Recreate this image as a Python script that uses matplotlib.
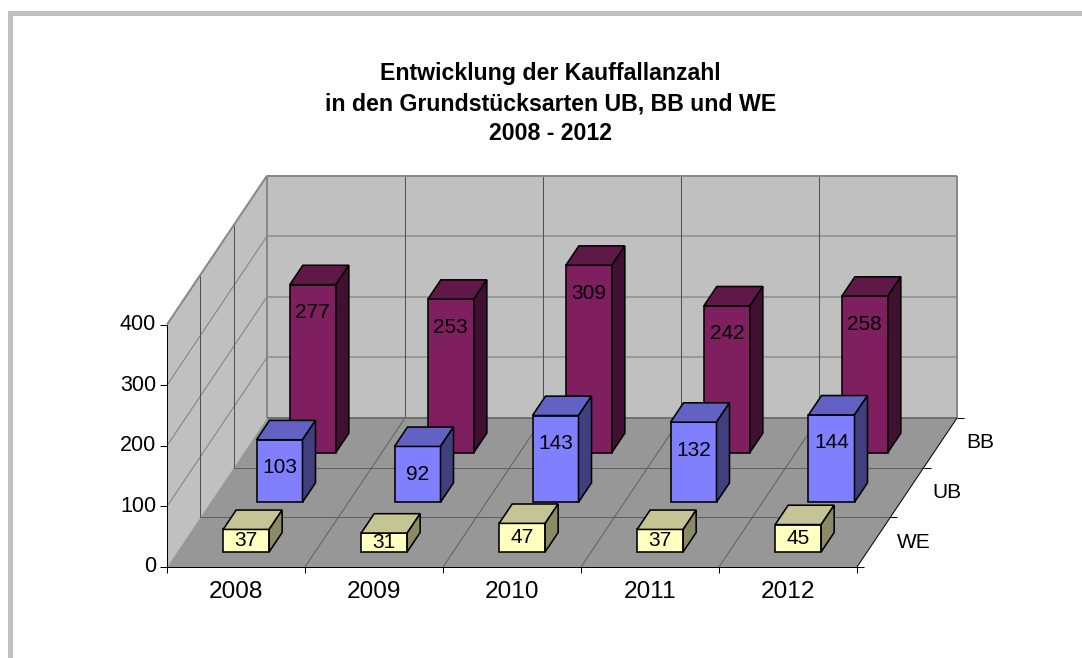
import matplotlib
matplotlib.use("Agg")
import matplotlib.pyplot as plt
from matplotlib.patches import Polygon, Rectangle

plt.rcParams['font.family'] = ['Liberation Sans', 'DejaVu Sans']

# ---------------- data ----------------
categories = ['2008', '2009', '2010', '2011', '2012']
series_names = ['WE', 'UB', 'BB']          # front to back
we_values = [37, 31, 47, 37, 45]
ub_values = [103, 92, 143, 132, 144]
bb_values = [277, 253, 309, 242, 258]
y_ticks = [0, 100, 200, 300, 400]
title_lines = ['Entwicklung der Kauffallanzahl',
               'in den Grundstücksarten UB, BB und WE',
               '2008 - 2012']

series_values = [we_values, ub_values, bb_values]

# ---------------- styles / geometry ----------------
W, H = 1082, 658
X0_PX, Y0_PX = 167, 567          # front-left floor corner (pixels)
CAT_PX = 138.0                   # pixels per category
VAL_PX = 0.606                   # pixels per value unit
DEPTH_DX_PX, DEPTH_DY_PX = 100.0, 149.0
DX = DEPTH_DX_PX / CAT_PX
DY = DEPTH_DY_PX / VAL_PX
VMAX = 400
NCAT = len(categories)
NSER = len(series_names)
BAR_W = 1 / 3.0
BAR_D = 0.13

face_colors = {
    'WE': ('#FFFFC0', '#C4C494', '#8A8A64'),
    'UB': ('#8080FF', '#6262C4', '#40407E'),
    'BB': ('#801F60', '#601848', '#401030'),
}
wall_col = '#C0C0C0'
floor_col = '#979797'
edge_col = '#888888'
px = 0.72  # points per pixel

fig = plt.figure(figsize=(W / 100, H / 100), dpi=100)
ax = fig.add_axes([0, 0, 1, 1])
ax.set_xlim(-X0_PX / CAT_PX, (W - X0_PX) / CAT_PX)
ax.set_ylim((Y0_PX - H) / VAL_PX, Y0_PX / VAL_PX)
ax.axis('off')


def P(x, v, d):
    return (x + d * DX, v + d * DY)


def poly(pts, fc, ec, lw, z):
    ax.add_patch(Polygon(pts, closed=True, facecolor=fc, edgecolor=ec,
                         linewidth=lw, zorder=z, joinstyle='miter'))


def line(p1, p2, color, lw, z):
    ax.plot([p1[0], p2[0]], [p1[1], p2[1]], color=color, lw=lw, zorder=z,
            solid_capstyle='butt')


# outer border
fig.patches.append(Rectangle((10 / W, -0.1), 1.2, 1.1 - 12.5 / H,
                             transform=fig.transFigure, fill=False,
                             edgecolor='#C0C0C0', linewidth=5 * px,
                             clip_on=False, zorder=0))

# walls and floor
poly([P(0, 0, 0), P(0, VMAX, 0), P(0, VMAX, 1), P(0, 0, 1)], wall_col, 'none', 0, 1)
poly([P(0, 0, 1), P(NCAT, 0, 1), P(NCAT, VMAX, 1), P(0, VMAX, 1)], wall_col, 'none', 0, 1)
poly([P(0, 0, 0), P(NCAT, 0, 0), P(NCAT, 0, 1), P(0, 0, 1)], floor_col, 'none', 0, 1)

# gridlines on back wall
for v in y_ticks[1:-1]:
    line(P(0, v, 1), P(NCAT, v, 1), '#999999', 2 * px, 2)
for i in range(1, NCAT):
    line(P(i, 0, 1), P(i, VMAX, 1), '#505050', 1 * px, 2)
# gridlines on side wall
for v in y_ticks[1:-1]:
    line(P(0, v, 0), P(0, v, 1), '#808080', 1 * px, 2)
for k in range(1, NSER):
    line(P(0, 0, k / NSER), P(0, VMAX, k / NSER), '#505050', 1 * px, 2)
# gridlines on floor
for k in range(1, NSER):
    line(P(0, 0, k / NSER), P(NCAT, 0, k / NSER), '#606060', 1 * px, 2)
for i in range(1, NCAT):
    line(P(i, 0, 0), P(i, 0, 1), '#606060', 1 * px, 2)
# wall edges
line(P(0, VMAX, 0), P(0, VMAX, 1), edge_col, 2 * px, 3)
line(P(0, VMAX, 1), P(NCAT, VMAX, 1), edge_col, 2 * px, 3)
line(P(NCAT, VMAX, 1), P(NCAT, 0, 1), edge_col, 2 * px, 3)
line(P(0, 0, 1), P(0, VMAX, 1), edge_col, 2 * px, 3)
line(P(0, 0, 1), P(NCAT, 0, 1), '#707070', 2 * px, 3)

# axes
tick_x = 7 / CAT_PX
tick_v = 6 / VAL_PX
line(P(0, 0, 0), P(0, VMAX, 0), 'black', 1 * px, 4)
for v in y_ticks:
    line(P(-tick_x, v, 0), P(0, v, 0), 'black', 1 * px, 4)
    ax.text(*P(-11 / CAT_PX, v, 0), str(v), ha='right', va='center',
            fontsize=15.5, zorder=5)
line(P(0, 0, 0), P(NCAT, 0, 0), 'black', 1 * px, 4)
for i in range(NCAT + 1):
    line(P(i, 0, 0), P(i, -tick_v, 0), 'black', 1 * px, 4)
for i, c in enumerate(categories):
    ax.text(*P(i + 0.5, -25 / VAL_PX, 0), c, ha='center', va='center',
            fontsize=17.6, zorder=5)
line(P(NCAT, 0, 0), P(NCAT, 0, 1), 'black', 1 * px, 4)
for k in range(NSER + 1):
    x, v = P(NCAT, 0, k / NSER)
    line((x, v), (x + tick_x, v), 'black', 1 * px, 4)
for k, s in enumerate(series_names):
    x, v = P(NCAT, 0, (k + 0.5) / NSER)
    ax.text(x + 40 / CAT_PX, v, s, ha='center', va='center', fontsize=15, zorder=5)

# bars, back rows first
z = 10
for k in reversed(range(NSER)):
    name = series_names[k]
    fc, tc, sc = face_colors[name]
    dc = (k + 0.5) / NSER
    d0, d1 = dc - BAR_D / 2, dc + BAR_D / 2
    for i, val in enumerate(series_values[k]):
        xl, xr = i + 0.5 - BAR_W / 2, i + 0.5 + BAR_W / 2
        poly([P(xl, 0, d0), P(xr, 0, d0), P(xr, val, d0), P(xl, val, d0)], fc, 'black', 1.6 * px, z)
        poly([P(xl, val, d0), P(xr, val, d0), P(xr, val, d1), P(xl, val, d1)], tc, 'black', 1.6 * px, z)
        poly([P(xr, 0, d0), P(xr, 0, d1), P(xr, val, d1), P(xr, val, d0)], sc, 'black', 1.6 * px, z)
        lab_v = max(val - 28 / VAL_PX, val / 2)
        ax.text(*P(i + 0.5, lab_v, d0), str(val), ha='center', va='center',
                fontsize=15, zorder=z + 0.5)
        z += 1

# title
for j, t in enumerate(title_lines):
    fig.text(550.5 / W, 1 - (80 + 30 * j) / H, t, ha='center', va='baseline',
             fontsize=16.7, fontweight='bold')

fig.savefig('out.png', dpi=100)
